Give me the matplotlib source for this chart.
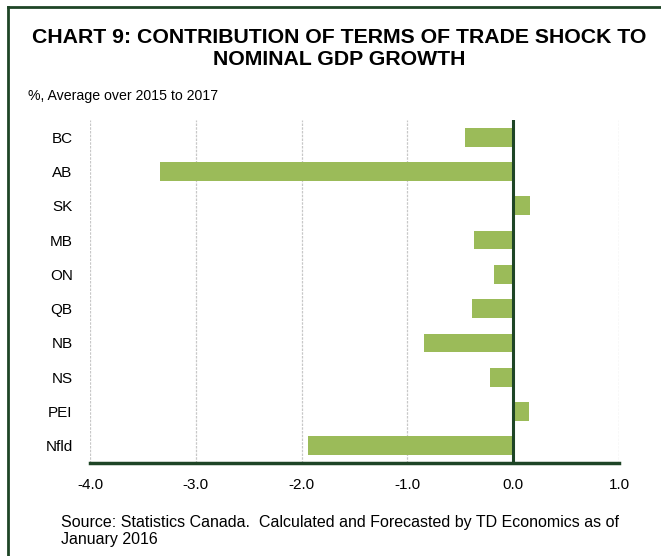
import matplotlib
matplotlib.use("Agg")
import matplotlib.pyplot as plt
from matplotlib.lines import Line2D

plt.rcParams['font.family'] = ['Liberation Sans', 'DejaVu Sans']

provinces = ["BC", "AB", "SK", "MB", "ON", "QB", "NB", "NS", "PEI", "Nfld"]
contribution = [-0.46, -3.34, 0.16, -0.37, -0.18, -0.39, -0.84, -0.22, 0.15, -1.94]
xticks = [-4.0, -3.0, -2.0, -1.0, 0.0, 1.0]

title = "CHART 9: CONTRIBUTION OF TERMS OF TRADE SHOCK TO\nNOMINAL GDP GROWTH"
subtitle = "%, Average over 2015 to 2017"
source = "Source: Statistics Canada.  Calculated and Forecasted by TD Economics as of\nJanuary 2016"

W, H = 661, 556
fig = plt.figure(figsize=(W / 100, H / 100), dpi=100)
ax = fig.add_axes([90 / W, 1 - 463 / H, (619 - 90) / W, (463 - 120) / H])

ypos = list(range(len(provinces)))
ax.barh(ypos, contribution, height=0.55, color="#9BBB59", zorder=3)
ax.set_ylim(len(provinces) - 0.5, -0.5)
ax.set_xlim(-4.0, 1.0)
ax.set_yticks(ypos)
ax.set_yticklabels(provinces)
ax.set_xticks(xticks)
ax.set_xticklabels([f"{t:.1f}" for t in xticks])
ax.tick_params(axis="both", length=0, labelsize=11, colors="#000000")
ax.tick_params(axis="y", pad=12.5)
ax.tick_params(axis="x", pad=11)

for t in xticks:
    if t != 0.0:
        ax.axvline(t, color="#C8C8C8", lw=0.9, ls=(0, (2, 1)), zorder=1)
ax.axvline(0.0, color="#1E4526", lw=2.2, zorder=4)

for s in ["top", "right", "left"]:
    ax.spines[s].set_visible(False)
ax.spines["bottom"].set_color("#1E4526")
ax.spines["bottom"].set_linewidth(2.5)
ax.spines["bottom"].set_zorder(5)

# frame
fig.add_artist(Line2D([8 / W, 8 / W], [0, 1 - 7 / H], color="#1E4526", lw=2.0, transform=fig.transFigure))
fig.add_artist(Line2D([8 / W, 1], [1 - 7 / H, 1 - 7 / H], color="#1E4526", lw=2.0, transform=fig.transFigure))

fig.text(339.5 / W, 1 - 48.5 / H, title, ha="center", va="center", fontsize=15.3,
         fontweight="bold", linespacing=1.18)
fig.text(28 / W, 1 - 96 / H, subtitle, ha="left", va="center", fontsize=10.2)
fig.text(61 / W, 1 - 531 / H, source, ha="left", va="center", fontsize=11.5, linespacing=1.15)

fig.savefig("out.png", dpi=100)
